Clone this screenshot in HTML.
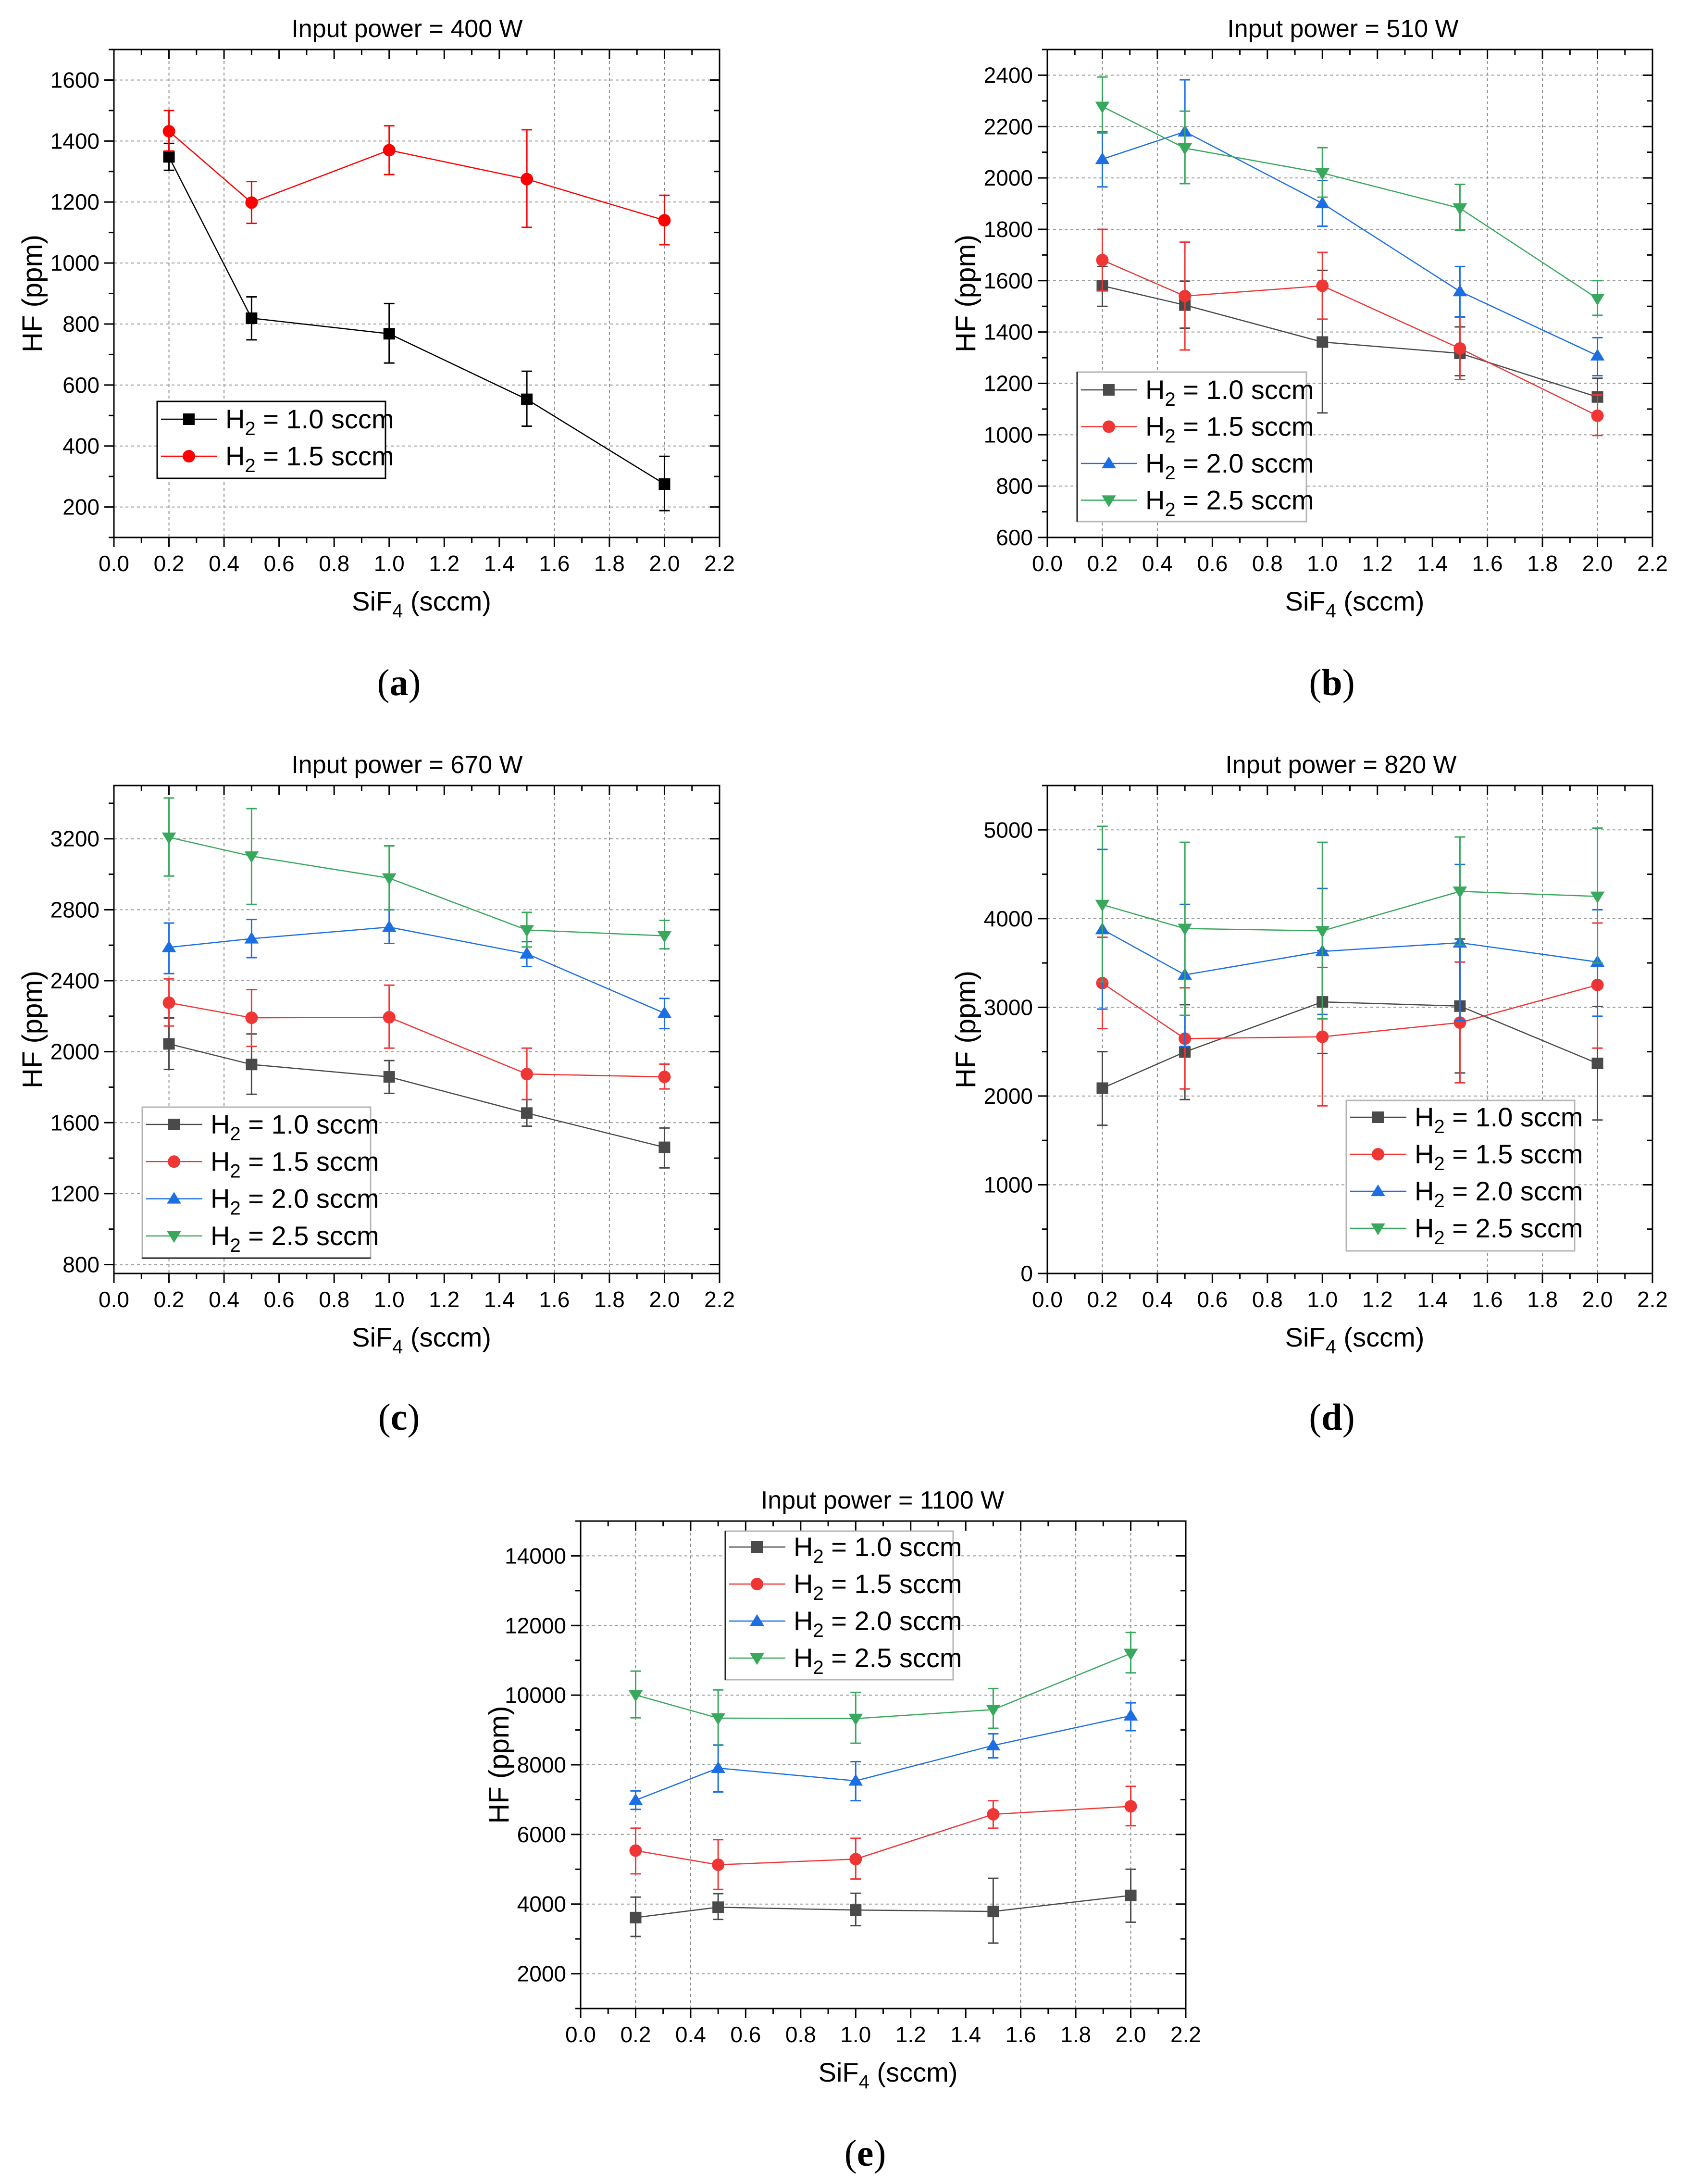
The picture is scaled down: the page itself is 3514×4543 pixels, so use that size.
<!DOCTYPE html>
<html><head><meta charset="utf-8"><style>
html,body{margin:0;padding:0;background:#fff;}
svg{display:block;font-family:"Liberation Sans",Arial,sans-serif;}
</style></head><body>
<svg id="fig" width="3514" height="4543" viewBox="0 0 3514 4543" xmlns="http://www.w3.org/2000/svg"></svg>
<script>
// ---------- data ----------
const xValues = [0.2, 0.5, 1.0, 1.5, 2.0];
const xTickLabels = ["0.0","0.2","0.4","0.6","0.8","1.0","1.2","1.4","1.6","1.8","2.0","2.2"];
const seriesLabels = ["1.0","1.5","2.0","2.5"];

// (a) 400 W
const a_h10 = [1348, 819, 768, 553, 275];
const a_h10_lo = [1304, 748, 672, 465, 188];
const a_h10_hi = [1392, 889, 867, 645, 366];
const a_h15 = [1432, 1198, 1370, 1275, 1140];
const a_h15_lo = [1367, 1130, 1290, 1117, 1060];
const a_h15_hi = [1500, 1267, 1450, 1437, 1222];
const a_yTicks = [200, 400, 600, 800, 1000, 1200, 1400, 1600];

// (b) 510 W
const b_h10 = [1580, 1505, 1361, 1317, 1147];
const b_h10_lo = [1500, 1415, 1085, 1230, 1080];
const b_h10_hi = [1655, 1598, 1640, 1420, 1220];
const b_h15 = [1680, 1540, 1580, 1336, 1074];
const b_h15_lo = [1560, 1330, 1450, 1215, 997];
const b_h15_hi = [1800, 1750, 1710, 1457, 1155];
const b_h20 = [2073, 2180, 1901, 1558, 1308];
const b_h20_lo = [1965, 1978, 1812, 1460, 1230];
const b_h20_hi = [2180, 2382, 1990, 1655, 1378];
const b_h25 = [2278, 2116, 2019, 1882, 1530];
const b_h25_lo = [2175, 1978, 1925, 1797, 1465];
const b_h25_hi = [2393, 2260, 2118, 1975, 1600];
const b_yTicks = [600, 800, 1000, 1200, 1400, 1600, 1800, 2000, 2200, 2400];

// (c) 670 W
const c_h10 = [2044, 1928, 1858, 1654, 1461];
const c_h10_lo = [1900, 1760, 1765, 1580, 1345];
const c_h10_hi = [2190, 2100, 1950, 1730, 1570];
const c_h15 = [2276, 2191, 2194, 1874, 1858];
const c_h15_lo = [2145, 2030, 2020, 1730, 1790];
const c_h15_hi = [2410, 2350, 2375, 2020, 1930];
const c_h20 = [2588, 2637, 2702, 2552, 2217];
const c_h20_lo = [2440, 2530, 2610, 2480, 2130];
const c_h20_hi = [2725, 2745, 2800, 2620, 2300];
const c_h25 = [3208, 3102, 2978, 2686, 2653];
const c_h25_lo = [2990, 2830, 2800, 2590, 2580];
const c_h25_hi = [3430, 3370, 3160, 2785, 2740];
const c_yTicks = [800, 1200, 1600, 2000, 2400, 2800, 3200];

// (d) 820 W
const d_h10 = [2089, 2497, 3061, 3014, 2368];
const d_h10_lo = [1670, 1960, 2480, 2260, 1730];
const d_h10_hi = [2500, 3030, 3640, 3770, 3010];
const d_h15 = [3273, 2647, 2668, 2828, 3252];
const d_h15_lo = [2760, 2080, 1890, 2150, 2540];
const d_h15_hi = [3790, 3220, 3450, 3510, 3950];
const d_h20 = [3878, 3366, 3630, 3728, 3511];
const d_h20_lo = [2980, 2560, 2920, 2850, 2900];
const d_h20_hi = [4780, 4160, 4340, 4610, 4100];
const d_h25 = [4157, 3888, 3862, 4307, 4250];
const d_h25_lo = [3290, 2910, 2870, 3700, 3500];
const d_h25_hi = [5040, 4860, 4860, 4920, 5020];
const d_yTicks = [0, 1000, 2000, 3000, 4000, 5000];

// (e) 1100 W
const e_h10 = [3612, 3910, 3829, 3788, 4248];
const e_h10_lo = [3070, 3560, 3380, 2880, 3480];
const e_h10_hi = [4200, 4300, 4310, 4740, 5000];
const e_h15 = [5535, 5129, 5291, 6578, 6808];
const e_h15_lo = [4870, 4420, 4720, 6180, 6250];
const e_h15_hi = [6180, 5850, 5890, 6970, 7380];
const e_h20 = [6984, 7905, 7540, 8555, 9409];
const e_h20_lo = [6720, 7220, 6970, 8200, 8980];
const e_h20_hi = [7250, 8570, 8090, 8890, 9780];
const e_h25 = [10005, 9341, 9327, 9585, 11196];
const e_h25_lo = [9350, 8560, 8620, 9050, 10640];
const e_h25_hi = [10690, 10150, 10080, 10190, 11800];
const e_yTicks = [2000, 4000, 6000, 8000, 10000, 12000, 14000];

// ---------- drawing ----------
const NS = "http://www.w3.org/2000/svg";
const svg = document.getElementById("fig");
function mk(tag, attrs, parent) {
  const e = document.createElementNS(NS, tag);
  for (const k in attrs) e.setAttribute(k, attrs[k]);
  (parent || svg).appendChild(e);
  return e;
}
const GRAY = "#4a4a4a", RED = "#f03535", BLUE = "#1c6fe3", GREEN = "#38a85c";

function marker(g, shape, cx, cy, color, s) {
  let m;
  if (shape === "square") m = mk("rect", {x: cx - s/2, y: cy - s/2, width: s, height: s, fill: color}, g);
  else if (shape === "circle") m = mk("circle", {cx: cx, cy: cy, r: s/2 + 1, fill: color}, g);
  else if (shape === "up") m = mk("polygon", {points: `${cx},${cy - s*0.6} ${cx - s*0.62},${cy + s*0.42} ${cx + s*0.62},${cy + s*0.42}`, fill: color}, g);
  else m = mk("polygon", {points: `${cx},${cy + s*0.6} ${cx - s*0.62},${cy - s*0.42} ${cx + s*0.62},${cy - s*0.42}`, fill: color}, g);
  return m;
}

function legendText(g, x, y, lab) {
  const t = mk("text", {x: x, y: y + 19, "font-size": 56, fill: "#000"}, g);
  
  
  const a = mk("tspan", {}, t); a.textContent = "H";
  const b = mk("tspan", {dy: 14, "font-size": 40}, t); b.textContent = "2";
  const c = mk("tspan", {dy: -14}, t); c.textContent = " = " + lab + " sccm";
}

function panel(p) {
  const g = mk("g", {});
  
  
  const sx = v => p.x0 + v / 2.2 * (p.x1 - p.x0);
  const sy = v => p.yb - (v - p.ymin) / (p.ymax - p.ymin) * (p.yb - p.yt);

  [0.2, 0.4, 1.6, 1.8, 2.0].forEach(v => {
    const l = mk("line", {x1: sx(v), x2: sx(v), y1: p.yt, y2: p.yb, stroke: "#8a8a8a", "stroke-width": 2, "stroke-dasharray": "6,6"}, g);
    
    
  });
  p.yticks.forEach(v => {
    const l = mk("line", {x1: p.x0, x2: p.x1, y1: sy(v), y2: sy(v), stroke: "#9a9a9a", "stroke-width": 2, "stroke-dasharray": "6,6"}, g);
    
    
  });

  const fr = mk("rect", {x: p.x0, y: p.yt, width: p.x1 - p.x0, height: p.yb - p.yt, fill: "none", stroke: "#000", "stroke-width": 3}, g);
  
  

  for (let i = 0; i <= 22; i++) {
    const X = sx(i / 10), maj = i % 2 === 0, L = maj ? 20 : 11;
    mk("line", {x1: X, x2: X, y1: p.yb, y2: p.yb + L, stroke: "#000", "stroke-width": 3}, g);
    mk("line", {x1: X, x2: X, y1: p.yt, y2: p.yt + L, stroke: "#000", "stroke-width": 3}, g);
  }
  xTickLabels.forEach((s, i) => {
    const t = mk("text", {x: sx(i * 0.2), y: p.yb + 70, "font-size": 46, "text-anchor": "middle", fill: "#000"}, g);
    
    
    t.textContent = s;
  });
  for (let v = Math.ceil(p.ymin / p.yminor) * p.yminor; v <= p.ymax + 1e-6; v += p.yminor) {
    const maj = Math.abs(v / p.ymajor - Math.round(v / p.ymajor)) < 1e-6, L = maj ? 20 : 11, Y = sy(v);
    mk("line", {x1: p.x0 - L, x2: p.x0, y1: Y, y2: Y, stroke: "#000", "stroke-width": 3}, g);
    mk("line", {x1: p.x1 - L, x2: p.x1, y1: Y, y2: Y, stroke: "#000", "stroke-width": 3}, g);
  }
  p.yticks.forEach(v => {
    const t = mk("text", {x: p.x0 - 30, y: sy(v) + 16, "font-size": 46, "text-anchor": "end", fill: "#000"}, g);
    
    
    t.textContent = String(v);
  });

  const tt = mk("text", {x: p.tx, y: p.yt - 26, "font-size": 52, "text-anchor": "middle", fill: "#000"}, g);
  
  
  tt.textContent = p.title;

  const xt = mk("text", {x: (p.x0 + p.x1) / 2 + 10, y: p.yb + 152, "font-size": 56, "text-anchor": "middle", fill: "#000"}, g);
  
  
  const x1 = mk("tspan", {}, xt); x1.textContent = "SiF";
  const x2 = mk("tspan", {dy: 14, "font-size": 40}, xt); x2.textContent = "4";
  const x3 = mk("tspan", {dy: -14}, xt); x3.textContent = " (sccm)";

  const yc = (p.yt + p.yb) / 2, yx = p.x0 - 150;
  const yt = mk("text", {x: yx, y: yc, "font-size": 58, "text-anchor": "middle", transform: `rotate(-90 ${yx} ${yc})`, fill: "#000"}, g);
  
  
  yt.textContent = "HF (ppm)";

  const pl = mk("text", {x: p.lx, y: p.ly, "font-size": 78, "text-anchor": "middle", "font-family": "Liberation Serif, serif", fill: "#000"}, g);
  
  
  const pa = mk("tspan", {}, pl); pa.textContent = "(";
  const pb = mk("tspan", {"font-weight": "bold"}, pl); pb.textContent = p.id;
  const pc = mk("tspan", {}, pl); pc.textContent = ")";

  const L = p.legend;
  const lb = mk("rect", {x: L.x, y: L.y, width: L.w, height: L.h, fill: "#fff", stroke: p.legendDark ? "#000" : "#b5b5b5", "stroke-width": 3}, g);
  
  
  if (L.darkSide === "left") mk("line", {x1: L.x, x2: L.x, y1: L.y, y2: L.y + L.h, stroke: "#222", "stroke-width": 3}, g);
  if (L.darkSide === "bottom") mk("line", {x1: L.x, x2: L.x + L.w, y1: L.y + L.h, y2: L.y + L.h, stroke: "#222", "stroke-width": 3}, g);

  p.series.forEach((s, si) => {
    const sg = mk("g", {}, g);
    
    
    const pts = s.vals.map((v, i) => `${sx(xValues[i])},${sy(v)}`).join(" ");
    const line = mk("polyline", {points: pts, fill: "none", stroke: s.color, "stroke-width": 2.5}, sg);
    
    
    s.vals.forEach((v, i) => {
      const X = sx(xValues[i]), lo = sy(s.lo[i]), hi = sy(s.hi[i]);
      const eb = mk("path", {d: `M${X},${lo}V${hi}M${X - 11},${lo}H${X + 11}M${X - 11},${hi}H${X + 11}`, stroke: s.color, "stroke-width": 3, fill: "none"}, sg);
      
      
      const m = marker(sg, s.shape, X, sy(v), s.color, 24);
      
      
    });
    const ey = L.ey0 + si * L.dy;
    const le = mk("g", {}, g);
    
    
    mk("line", {x1: L.x + 8, x2: L.x + 125, y1: ey, y2: ey, stroke: s.color, "stroke-width": 2.5}, le);
    marker(le, s.shape, L.x + 66, ey, s.color, 24);
    legendText(le, L.x + 142, ey, seriesLabels[si]);
  });
}

panel({id: "a", title: "Input power = 400 W", x0: 237, x1: 1497, yt: 103, yb: 1118, ymin: 100, ymax: 1700, ymajor: 200, yminor: 100, yticks: a_yTicks,
  tx: 847, lx: 830, ly: 1446, legendDark: true,
  legend: {x: 327, y: 835, w: 475, h: 160, ey0: 872, dy: 77},
  series: [
    {vals: a_h10, lo: a_h10_lo, hi: a_h10_hi, color: "#000", shape: "square"},
    {vals: a_h15, lo: a_h15_lo, hi: a_h15_hi, color: "#ff0000", shape: "circle"}]});

panel({id: "b", title: "Input power = 510 W", x0: 2179, x1: 3438, yt: 103, yb: 1118, ymin: 600, ymax: 2500, ymajor: 200, yminor: 100, yticks: b_yTicks,
  tx: 2794, lx: 2771, ly: 1446, legendDark: false,
  legend: {x: 2241, y: 774, w: 477, h: 311, ey0: 811, dy: 76.5, darkSide: "left"},
  series: [
    {vals: b_h10, lo: b_h10_lo, hi: b_h10_hi, color: GRAY, shape: "square"},
    {vals: b_h15, lo: b_h15_lo, hi: b_h15_hi, color: RED, shape: "circle"},
    {vals: b_h20, lo: b_h20_lo, hi: b_h20_hi, color: BLUE, shape: "up"},
    {vals: b_h25, lo: b_h25_lo, hi: b_h25_hi, color: GREEN, shape: "down"}]});

panel({id: "c", title: "Input power = 670 W", x0: 237, x1: 1497, yt: 1634, yb: 2649, ymin: 750, ymax: 3500, ymajor: 400, yminor: 200, yticks: c_yTicks,
  tx: 847, lx: 830, ly: 2974, legendDark: false,
  legend: {x: 296, y: 2303, w: 475, h: 314, ey0: 2339, dy: 77.3, darkSide: "bottom"},
  series: [
    {vals: c_h10, lo: c_h10_lo, hi: c_h10_hi, color: GRAY, shape: "square"},
    {vals: c_h15, lo: c_h15_lo, hi: c_h15_hi, color: RED, shape: "circle"},
    {vals: c_h20, lo: c_h20_lo, hi: c_h20_hi, color: BLUE, shape: "up"},
    {vals: c_h25, lo: c_h25_lo, hi: c_h25_hi, color: GREEN, shape: "down"}]});

panel({id: "d", title: "Input power = 820 W", x0: 2179, x1: 3438, yt: 1634, yb: 2649, ymin: 0, ymax: 5500, ymajor: 1000, yminor: 500, yticks: d_yTicks,
  tx: 2790, lx: 2771, ly: 2974, legendDark: false,
  legend: {x: 2801, y: 2289, w: 475, h: 313, ey0: 2324, dy: 77},
  series: [
    {vals: d_h10, lo: d_h10_lo, hi: d_h10_hi, color: GRAY, shape: "square"},
    {vals: d_h15, lo: d_h15_lo, hi: d_h15_hi, color: RED, shape: "circle"},
    {vals: d_h20, lo: d_h20_lo, hi: d_h20_hi, color: BLUE, shape: "up"},
    {vals: d_h25, lo: d_h25_lo, hi: d_h25_hi, color: GREEN, shape: "down"}]});

panel({id: "e", title: "Input power = 1100 W", x0: 1208, x1: 2467, yt: 3164, yb: 4178, ymin: 1000, ymax: 15000, ymajor: 2000, yminor: 1000, yticks: e_yTicks,
  tx: 1836, lx: 1800, ly: 4505, legendDark: false,
  legend: {x: 1509, y: 3185, w: 474, h: 309, ey0: 3218, dy: 77, darkSide: "left"},
  series: [
    {vals: e_h10, lo: e_h10_lo, hi: e_h10_hi, color: GRAY, shape: "square"},
    {vals: e_h15, lo: e_h15_lo, hi: e_h15_hi, color: RED, shape: "circle"},
    {vals: e_h20, lo: e_h20_lo, hi: e_h20_hi, color: BLUE, shape: "up"},
    {vals: e_h25, lo: e_h25_lo, hi: e_h25_hi, color: GREEN, shape: "down"}]});
</script>
</body></html>
